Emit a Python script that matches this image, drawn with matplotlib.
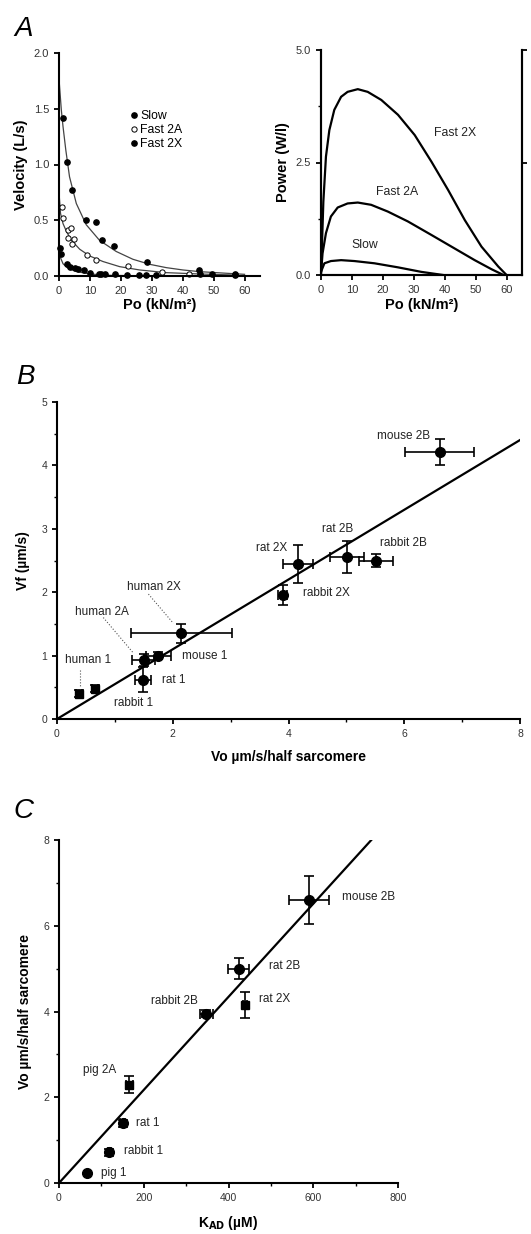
import matplotlib
matplotlib.use('Agg')
import matplotlib.pyplot as plt
from matplotlib.ticker import MultipleLocator

plt.rcParams['font.family'] = ['Liberation Sans', 'DejaVu Sans']
plt.rcParams['axes.linewidth'] = 1.5
plt.rcParams['xtick.major.width'] = 1.3
plt.rcParams['ytick.major.width'] = 1.3
plt.rcParams['xtick.minor.width'] = 1.0
plt.rcParams['ytick.minor.width'] = 1.0
plt.rcParams['xtick.major.size'] = 3.5
plt.rcParams['ytick.major.size'] = 3.5
plt.rcParams['xtick.minor.size'] = 2.5
plt.rcParams['ytick.minor.size'] = 2.5
plt.rcParams['xtick.labelcolor'] = '#333333'
plt.rcParams['ytick.labelcolor'] = '#333333'

# ---- panel A, velocity vs Po (data points) ----
slow_po = [1.3, 2.7, 4.2, 8.8, 11.9, 14.0, 17.7, 28.6, 45.2, 49.6, 56.8]
slow_v = [1.42, 1.02, 0.77, 0.50, 0.48, 0.32, 0.27, 0.13, 0.05, 0.02, 0.02]
f2a_po = [0.97, 1.3, 2.9, 2.8, 3.8, 4.3, 5.0, 9.0, 11.9, 22.3, 33.4, 42.2]
f2a_v = [0.62, 0.52, 0.41, 0.34, 0.43, 0.29, 0.33, 0.19, 0.14, 0.09, 0.04, 0.02]
f2x_po = [0.2, 0.5, 2.7, 3.4, 5.2, 6.1, 8.0, 10.1, 12.8, 13.7, 14.8, 18.0,
          22.0, 26.0, 28.2, 31.5, 45.5, 57.0]
f2x_v = [0.25, 0.20, 0.11, 0.08, 0.07, 0.065, 0.05, 0.025, 0.02, 0.015, 0.015,
         0.015, 0.01, 0.01, 0.01, 0.01, 0.02, 0.01]

# fitted curves
fit1_po = [0.1, 0.75, 1.3, 2.2, 3.4, 5.6, 8.8, 13.1, 18.5, 23.9, 29.3, 34.7,
           40.1, 45.5, 50.9, 56.3, 60.0]
fit1_v = [1.73, 1.49, 1.34, 1.13, 0.89, 0.65, 0.46, 0.32, 0.22, 0.15, 0.105,
          0.075, 0.054, 0.039, 0.03, 0.021, 0.015]
fit2_po = [0.1, 0.5, 1.3, 2.4, 4.0, 6.7, 9.9, 14.2, 19.6, 26.1, 34.7, 45.5, 56.3]
fit2_v = [0.71, 0.56, 0.47, 0.40, 0.32, 0.24, 0.18, 0.13, 0.084, 0.054, 0.03,
          0.018, 0.009]
fit3_po = [0.1, 0.4, 1.3, 2.9, 5.6, 9.9, 16.4, 29.0, 60.0]
fit3_v = [0.26, 0.17, 0.11, 0.07, 0.04, 0.018, 0.006, 0.0, 0.0]

# ---- panel A, power curves ----
p2x_po = [0, 0.2, 0.76, 1.6, 2.7, 4.3, 6.5, 8.6, 11.9, 15.1, 19.5, 24.9, 30.3,
          35.7, 41.1, 46.5, 51.9, 57.3, 60.0]
p2x_w = [0.04, 0.41, 1.63, 2.63, 3.22, 3.67, 3.96, 4.07, 4.13, 4.07, 3.89, 3.56,
         3.11, 2.52, 1.89, 1.22, 0.63, 0.19, 0.0]
p2a_po = [0, 0.5, 1.6, 3.2, 5.4, 8.6, 11.9, 16.2, 21.6, 28.1, 35.7, 43.2, 49.7,
          55.1, 59.0]
p2a_w = [0.04, 0.48, 0.93, 1.30, 1.50, 1.59, 1.61, 1.56, 1.41, 1.19, 0.89, 0.59,
         0.33, 0.13, 0.0]
pslow_po = [0, 1.1, 3.2, 6.5, 10.8, 17.3, 24.9, 32.4, 39.5]
pslow_w = [0.07, 0.26, 0.31, 0.33, 0.31, 0.26, 0.17, 0.07, 0.0]

# ---- panel B ----
b_vo = [0.38, 0.65, 1.48, 1.50, 1.75, 2.15, 3.90, 4.16, 5.01, 5.51, 6.61]
b_vf = [0.40, 0.48, 0.62, 0.93, 1.00, 1.35, 1.96, 2.45, 2.55, 2.50, 4.21]
b_xerr = [0.05, 0.05, 0.14, 0.20, 0.22, 0.87, 0.08, 0.26, 0.29, 0.30, 0.60]
b_yerr = [0.05, 0.05, 0.20, 0.10, 0.06, 0.15, 0.16, 0.30, 0.25, 0.10, 0.20]
b_square = [True, True, False, False, False, False, False, False, False, False, False]
b_slope = 0.55
b_labels = ['mouse 2B', 'rat 2B', 'rabbit 2B', 'rat 2X', 'rabbit 2X',
            'mouse 1', 'rat 1', 'rabbit 1', 'human 1', 'human 2A', 'human 2X']
b_lab_x = [6.45, 4.85, 5.99, 3.70, 4.65, 2.55, 2.01, 1.32, 0.54, 0.77, 1.68]
b_lab_y = [4.46, 3.00, 2.78, 2.69, 1.98, 1.00, 0.62, 0.26, 0.93, 1.68, 2.08]
b_lab_ha = ['right', 'center', 'center', 'center', 'center', 'center',
            'center', 'center', 'center', 'center', 'center']

# ---- panel C ----
c_kad = [67, 119, 150, 166, 348, 439, 424, 590]
c_vo = [0.23, 0.72, 1.39, 2.29, 3.95, 4.16, 5.00, 6.60]
c_xerr = [0, 4, 5, 8, 16, 5, 25, 47]
c_yerr = [0, 0.08, 0.08, 0.20, 0.08, 0.30, 0.25, 0.55]
c_square = [False, False, False, True, False, True, False, False]
c_slope = 8 / 737
c_labels = ['pig 1', 'rabbit 1', 'rat 1', 'pig 2A', 'rabbit 2B', 'rat 2X',
            'rat 2B', 'mouse 2B']
c_lab_x = [130, 200, 209, 97, 272, 509, 533, 730]
c_lab_y = [0.24, 0.75, 1.41, 2.64, 4.25, 4.28, 5.05, 6.67]

W, H = 531, 1234
fig = plt.figure(figsize=(W / 100, H / 100), dpi=100)


def box(x0, y0, x1, y1):
    # pixel box (left, top, right, bottom) -> figure fraction
    return [x0 / W, 1 - y1 / H, (x1 - x0) / W, (y1 - y0) / H]


# ================= A left =================
ax1 = fig.add_axes(box(59, 53, 260, 276))
ax1.plot(fit1_po, fit1_v, color='#444444', lw=0.9)
ax1.plot(fit2_po, fit2_v, color='#444444', lw=0.9)
ax1.plot(fit3_po, fit3_v, color='#444444', lw=0.9)
ax1.plot(slow_po, slow_v, 'o', ms=3.8, color='black', clip_on=False, label='Slow')
ax1.plot(f2a_po, f2a_v, 'o', ms=3.8, mfc='white', mec='black', mew=0.7,
         clip_on=False, label='Fast 2A')
ax1.plot(f2x_po, f2x_v, 'o', ms=3.8, color='black', clip_on=False, label='Fast 2X')
ax1.set_xlim(0, 65)
ax1.set_ylim(0, 2.0)
ax1.set_xticks(range(0, 61, 10))
ax1.set_yticks([0.0, 0.5, 1.0, 1.5, 2.0])
ax1.set_yticklabels(['0.0', '0.5', '1.0', '1.5', '2.0'])
ax1.tick_params(labelsize=8)
ax1.spines['top'].set_visible(False)
ax1.spines['right'].set_visible(False)
ax1.set_xlabel('Po (kN/m²)', fontsize=10.5, fontweight='bold', labelpad=2)
ax1.set_ylabel('Velocity (L/s)', fontsize=10.5, fontweight='bold', labelpad=4)
ax1.legend(loc='upper left', bbox_to_anchor=(0.33, 0.77), frameon=False,
           fontsize=8.8, handlelength=0.4, handletextpad=0.3, labelspacing=0.15,
           borderpad=0)

# ================= A right =================
ax2 = fig.add_axes(box(321, 50, 522, 275))
ax2.plot(p2x_po, p2x_w, color='black', lw=1.6)
ax2.plot(p2a_po, p2a_w, color='black', lw=1.6)
ax2.plot(pslow_po, pslow_w, color='black', lw=1.6)
ax2.set_xlim(0, 65)
ax2.set_ylim(0, 5.0)
ax2.set_xticks(range(0, 61, 10))
ax2.set_yticks([0.0, 2.5, 5.0])
ax2.set_yticklabels(['0.0', '2.5', '5.0'])
ax2.yaxis.set_minor_locator(MultipleLocator(1.25))
ax2.tick_params(labelsize=8)
ax2.spines['top'].set_visible(False)
ax2r = ax2.twinx()
ax2r.set_ylim(0, 5.0)
ax2r.set_yticks([2.5, 5.0])
ax2r.set_yticklabels([])
ax2r.spines['top'].set_visible(False)
ax2.set_xlabel('Po (kN/m²)', fontsize=10.5, fontweight='bold', labelpad=2)
ax2.set_ylabel('Power (W/l)', fontsize=10.5, fontweight='bold', labelpad=4)
ax2.text(43.5, 3.15, 'Fast 2X', fontsize=8.8, ha='center', va='center', color='#222222')
ax2.text(24.7, 1.85, 'Fast 2A', fontsize=8.8, ha='center', va='center', color='#222222')
ax2.text(14.2, 0.67, 'Slow', fontsize=8.8, ha='center', va='center', color='#222222')

# ================= B =================
ax3 = fig.add_axes(box(57, 402, 520, 719))
ax3.plot([0, 8], [0, 8 * b_slope], color='black', lw=1.6)
for x, y, xe, ye, sq in zip(b_vo, b_vf, b_xerr, b_yerr, b_square):
    ax3.errorbar(x, y, xerr=xe, yerr=ye, fmt='s' if sq else 'o',
                 ms=6 if sq else 7, color='black', ecolor='black',
                 elinewidth=1.2, capsize=3.5, capthick=1.2)
for t, x, y, ha in zip(b_labels, b_lab_x, b_lab_y, b_lab_ha):
    ax3.text(x, y, t, fontsize=8.5, ha=ha, va='center', color='#222222')
# dotted leader lines
ax3.plot([0.40, 0.40], [0.77, 0.50], ':', color='#555555', lw=0.8)
ax3.plot([0.80, 1.32], [1.60, 1.04], ':', color='#555555', lw=0.8)
ax3.plot([1.58, 2.01], [1.97, 1.51], ':', color='#555555', lw=0.8)
ax3.set_xlim(0, 8)
ax3.set_ylim(0, 5)
ax3.set_xticks([0, 2, 4, 6, 8])
ax3.xaxis.set_minor_locator(MultipleLocator(1))
ax3.set_yticks([0, 1, 2, 3, 4, 5])
ax3.yaxis.set_minor_locator(MultipleLocator(0.5))
ax3.tick_params(labelsize=7.5)
ax3.spines['top'].set_visible(False)
ax3.spines['right'].set_visible(False)
ax3.set_xlabel('Vo µm/s/half sarcomere', fontsize=10, fontweight='bold', labelpad=8)
ax3.set_ylabel('Vf (µm/s)', fontsize=10, fontweight='bold', labelpad=8)

# ================= C =================
ax4 = fig.add_axes(box(59, 840, 398, 1183))
ax4.plot([0, 8 / c_slope], [0, 8], color='black', lw=1.6)
for x, y, xe, ye, sq in zip(c_kad, c_vo, c_xerr, c_yerr, c_square):
    ax4.errorbar(x, y, xerr=xe if xe else None, yerr=ye if ye else None,
                 fmt='s' if sq else 'o', ms=6 if sq else 7, color='black',
                 ecolor='black', elinewidth=1.2, capsize=3.5, capthick=1.2)
for t, x, y in zip(c_labels, c_lab_x, c_lab_y):
    ax4.text(x, y, t, fontsize=8.5, ha='center', va='center', color='#222222')
ax4.set_xlim(0, 800)
ax4.set_ylim(0, 8)
ax4.set_xticks([0, 200, 400, 600, 800])
ax4.xaxis.set_minor_locator(MultipleLocator(100))
ax4.set_yticks([0, 2, 4, 6, 8])
ax4.yaxis.set_minor_locator(MultipleLocator(1))
ax4.tick_params(labelsize=7.5)
ax4.spines['top'].set_visible(False)
ax4.spines['right'].set_visible(False)
ax4.set_xlabel('K$_{\\mathbf{AD}}$ (µM)', fontsize=10, fontweight='bold', labelpad=8)
ax4.set_ylabel('Vo µm/s/half sarcomere', fontsize=10, fontweight='bold', labelpad=8)

# panel letters
for letter, px, py in [('A', 14, 36), ('B', 16, 384), ('C', 13, 818)]:
    fig.text(px / W, 1 - py / H, letter, fontsize=20, style='italic',
             ha='left', va='baseline')

fig.savefig('out.png', dpi=100)
